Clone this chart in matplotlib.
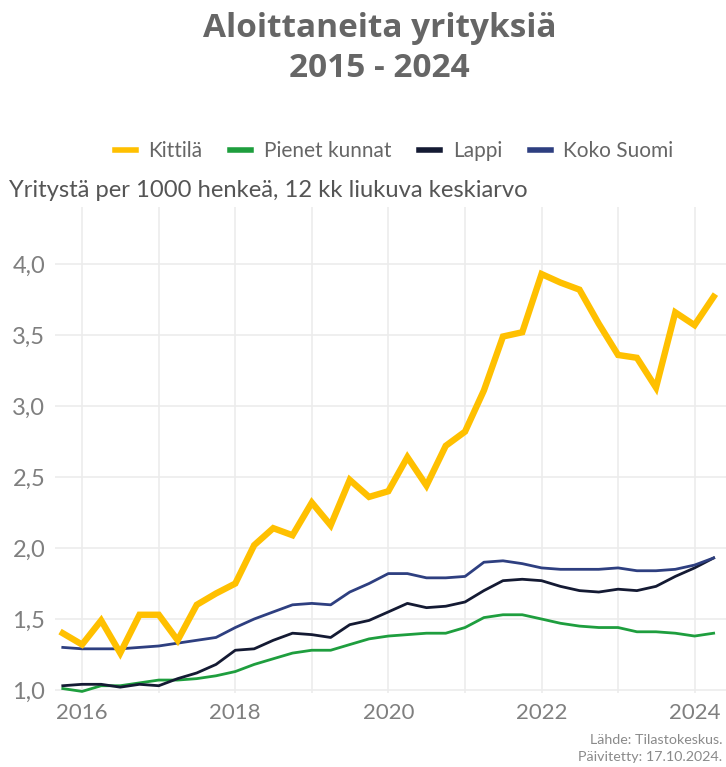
"""Aloittaneita yrityksiä 2015-2024 (12 kk liukuva keskiarvo)."""
import matplotlib
matplotlib.use("Agg")
import matplotlib.pyplot as plt
import matplotlib.dates as mdates
import pandas as pd

plt.rcParams["font.family"] = ["Lato", "DejaVu Sans"]

# neljännesvuosittaiset havainnot 2015Q4 - 2024Q2
quarters = pd.date_range("2015-10-01", "2024-04-01", freq="QS")

kittila = [1.40, 1.32, 1.49, 1.26, 1.53, 1.53, 1.35, 1.60, 1.68, 1.75,
           2.02, 2.14, 2.09, 2.32, 2.16, 2.48, 2.36, 2.40, 2.64, 2.44,
           2.72, 2.82, 3.11, 3.49, 3.52, 3.93, 3.87, 3.82, 3.58, 3.36,
           3.34, 3.13, 3.66, 3.57, 3.77]
pienet = [1.01, 0.99, 1.03, 1.03, 1.05, 1.07, 1.07, 1.08, 1.10, 1.13,
          1.18, 1.22, 1.26, 1.28, 1.28, 1.32, 1.36, 1.38, 1.39, 1.40,
          1.40, 1.44, 1.51, 1.53, 1.53, 1.50, 1.47, 1.45, 1.44, 1.44,
          1.41, 1.41, 1.40, 1.38, 1.40]
lappi = [1.03, 1.04, 1.04, 1.02, 1.04, 1.03, 1.08, 1.12, 1.18, 1.28,
         1.29, 1.35, 1.40, 1.39, 1.37, 1.46, 1.49, 1.55, 1.61, 1.58,
         1.59, 1.62, 1.70, 1.77, 1.78, 1.77, 1.73, 1.70, 1.69, 1.71,
         1.70, 1.73, 1.80, 1.86, 1.93]
koko_suomi = [1.30, 1.29, 1.29, 1.29, 1.30, 1.31, 1.33, 1.35, 1.37, 1.44,
              1.50, 1.55, 1.60, 1.61, 1.60, 1.69, 1.75, 1.82, 1.82, 1.79,
              1.79, 1.80, 1.90, 1.91, 1.89, 1.86, 1.85, 1.85, 1.85, 1.86,
              1.84, 1.84, 1.85, 1.88, 1.93]

y_ticks = [1.0, 1.5, 2.0, 2.5, 3.0, 3.5, 4.0]
x_tick_years = [2016, 2018, 2020, 2022, 2024]
grid_years = range(2016, 2025)

TXT = "#666666"
TICK = "#7f7f7f"
H = 767


def fy(px):
    # pikselirivi ylhäältä -> figure-koordinaatti
    return 1 - px / H


fig = plt.figure(figsize=(7.26, 7.67), dpi=100)
ax = fig.add_axes([0.0758, 0.0967, 0.9242, 0.633])

ax.plot(quarters, kittila, color="#FFC000", lw=4.6, label="Kittilä",
        solid_joinstyle="miter", zorder=4)
ax.plot(quarters, pienet, color="#1E9E3E", lw=2.0, label="Pienet kunnat", zorder=3)
ax.plot(quarters, lappi, color="#141A33", lw=2.0, label="Lappi", zorder=3)
ax.plot(quarters, koko_suomi, color="#2E3F80", lw=2.0, label="Koko Suomi", zorder=3)

ax.set_xlim(pd.Timestamp("2015-08-25"), pd.Timestamp("2024-05-30"))
ax.set_ylim(0.98, 4.4)

ax.set_yticks(y_ticks)
ax.set_yticklabels([f"{v:.1f}".replace(".", ",") for v in y_ticks])
ax.set_xticks([pd.Timestamp(f"{y}-01-01") for y in grid_years], minor=True)
ax.set_xticks([pd.Timestamp(f"{y}-01-01") for y in x_tick_years])
ax.xaxis.set_major_formatter(mdates.DateFormatter("%Y"))

ax.grid(True, which="both", color="#ececec", lw=1.2)
ax.set_axisbelow(True)
ax.tick_params(which="both", length=0)
ax.tick_params(axis="y", labelsize=17, labelcolor=TICK, pad=7)
ax.tick_params(axis="x", labelsize=16, labelcolor=TICK, pad=7)
for s in ax.spines.values():
    s.set_visible(False)

fig.text(0.523, fy(37), "Aloittaneita yrityksiä", ha="center", va="baseline",
         fontsize=24, fontweight="bold", color=TXT, family=["Open Sans", "DejaVu Sans"])
fig.text(0.523, fy(77), "2015 - 2024", ha="center", va="baseline",
         fontsize=24, fontweight="bold", color=TXT, family=["Open Sans", "DejaVu Sans"])

leg = fig.legend(loc="center", bbox_to_anchor=(0.543, fy(151)), ncol=4,
                 frameon=False, fontsize=15, labelcolor=TXT, handlelength=1.0,
                 handletextpad=0.6, columnspacing=1.35)
for line in leg.get_lines():
    line.set_linewidth(4)

fig.text(0.012, fy(197), "Yritystä per 1000 henkeä, 12 kk liukuva keskiarvo",
         ha="left", va="baseline", fontsize=17.1, color="#555555")

fig.text(0.995, fy(740), "Lähde: Tilastokeskus.", ha="right", va="center",
         fontsize=10.3, color="#8a8a8a")
fig.text(0.995, fy(757), "Päivitetty: 17.10.2024.", ha="right", va="center",
         fontsize=10.3, color="#8a8a8a")

fig.savefig("out.png", dpi=100)
